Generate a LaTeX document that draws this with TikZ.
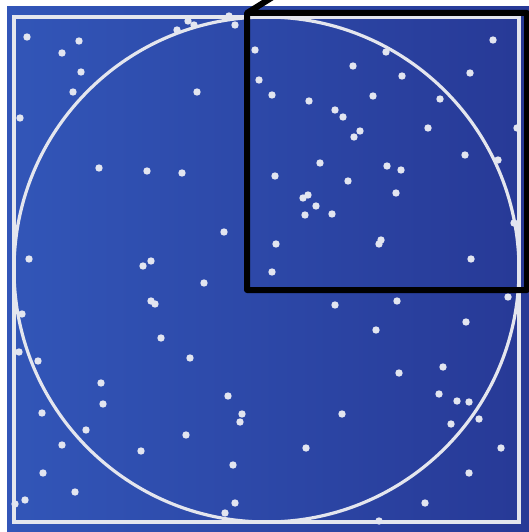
\documentclass[tikz,border=0pt]{standalone}
\definecolor{bgleft}{RGB}{50,86,184}
\definecolor{bgright}{RGB}{39,57,150}
\definecolor{linewhite}{RGB}{228,230,238}
\definecolor{dotwhite}{RGB}{226,229,240}
\begin{document}
\begin{tikzpicture}[x=1pt,y=-1pt,
  dot/.style={fill=dotwhite,draw=none},
  frame/.style={draw=linewhite,line width=3.2pt},
  box/.style={draw=black,line width=6pt,line join=round}]
\useasboundingbox (0,0) rectangle (529,532);
\fill[white] (0,0) rectangle (529,532);
\shade[left color=bgleft,right color=bgright] (7,7) rectangle (529,532);
\draw[frame] (14,17) rectangle (519,522);
\draw[frame] (266.5,269.5) circle (252.5);
\foreach \x/\y in {
27/37,79/41,62/53,81/72,73/92,20/118,188/21,194/25,177/30,229/16,235/25,255/50,259/80,197/92,
99/168,147/171,182/173,224/232,29/259,151/261,143/266,
493/40,386/52,353/66,402/76,470/73,272/95,309/101,373/96,440/99,335/110,343/117,360/131,354/137,
428/128,517/128,465/155,498/160,320/163,275/176,387/166,401/170,348/181,396/193,303/198,308/195,
316/206,305/215,332/214,514/223,276/244,381/240,379/244,471/259,
204/283,151/301,155/304,22/314,161/338,19/352,38/361,190/358,101/383,103/404,42/413,228/396,
242/414,240/422,86/430,62/445,186/435,141/451,233/465,43/473,75/492,25/500,15/504,235/503,225/513,
272/272,335/305,397/301,508/297,466/322,376/330,443/367,399/373,439/394,457/401,469/402,479/419,
451/424,342/414,306/448,501/448,469/473,425/503,379/521}
  \fill[dot] (\x,\y) circle (3.7);
\draw[box] (276,-5) -- (247,13) -- (247,290) -- (527,290) -- (527,13) -- (247,13);
\end{tikzpicture}
\end{document}
